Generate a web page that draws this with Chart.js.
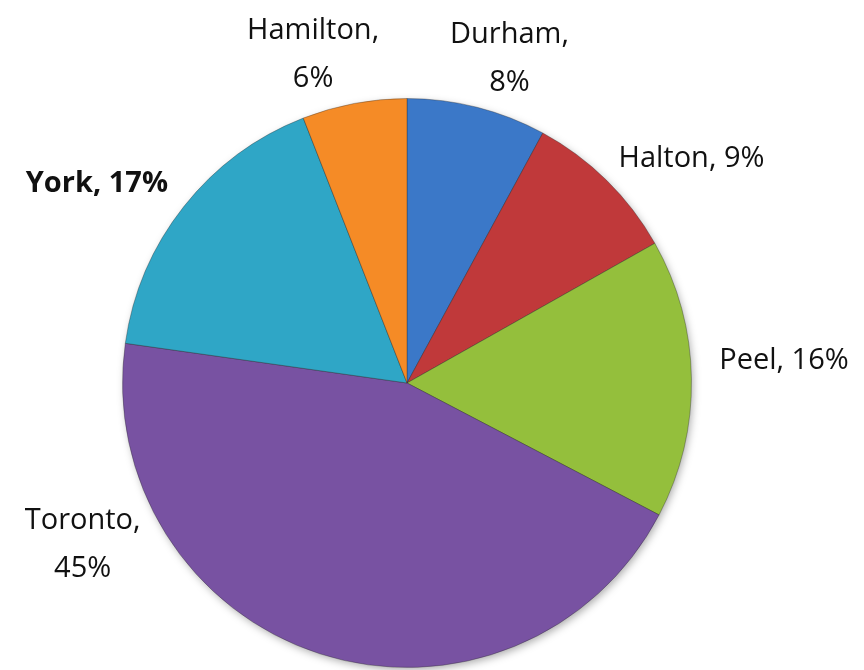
<!DOCTYPE html>
<html>
<head>
<meta charset="utf-8">
<script src="https://cdn.jsdelivr.net/npm/chart.js@4"></script>
<style>
  html, body { margin: 0; padding: 0; background: #fff; }
  #wrap { width: 864px; height: 670px; }
</style>
</head>
<body>
<div id="wrap"><canvas id="pieChart" width="864" height="670"></canvas></div>
<script>
// =====================
// Data
// =====================
const regiones = ["Durham", "Halton", "Peel", "Toronto", "York", "Hamilton"];
const porcentajes = [8, 9, 16, 45, 17, 6];
const colores = ["#3b78c8", "#c0393a", "#94bf3c", "#7852a2", "#2fa6c6", "#f58b26"];

// label lines + offset from pie centre (dx, dy in units of radius)
const etiquetas = [
  { lineas: ["Durham,", "8%"], dx: 0.36, dy: -1.14, bold: false },
  { lineas: ["Halton, 9%"], dx: 1.0, dy: -0.79, bold: false },
  { lineas: ["Peel, 16%"], dx: 1.325, dy: -0.08, bold: false },
  { lineas: ["Toronto,", "45%"], dx: -1.14, dy: 0.57, bold: false },
  { lineas: ["York, 17%"], dx: -1.09, dy: -0.70, bold: true },
  { lineas: ["Hamilton,", "6%"], dx: -0.33, dy: -1.155, bold: false },
];

function aclarar(hex, f) {
  const n = parseInt(hex.slice(1), 16);
  let r = (n >> 16) & 255, g = (n >> 8) & 255, b = n & 255;
  if (f > 0) { r += (255 - r) * f; g += (255 - g) * f; b += (255 - b) * f; }
  else { r *= 1 + f; g *= 1 + f; b *= 1 + f; }
  return `rgb(${Math.round(r)},${Math.round(g)},${Math.round(b)})`;
}

// shaded fill, a little like the Office bevel
function relleno(context) {
  const chart = context.chart;
  const base = colores[context.dataIndex];
  const meta = chart.getDatasetMeta(0);
  const arc = meta.data[context.dataIndex];
  if (!arc || !arc.outerRadius) return base;
  const g = chart.ctx.createRadialGradient(arc.x, arc.y, 0, arc.x, arc.y, arc.outerRadius);
  g.addColorStop(0, aclarar(base, -0.04));
  g.addColorStop(0.85, base);
  g.addColorStop(0.965, aclarar(base, 0.12));
  g.addColorStop(1, aclarar(base, -0.25));
  return g;
}

// =====================
// Labels plugin
// =====================
const pluginEtiquetas = {
  id: "etiquetas",
  afterDatasetsDraw(chart) {
    const arc = chart.getDatasetMeta(0).data[0];
    if (!arc) return;
    const ctx = chart.ctx;
    const r = arc.outerRadius;
    ctx.save();
    ctx.fillStyle = "#111";
    ctx.textAlign = "center";
    ctx.textBaseline = "middle";
    etiquetas.forEach((e) => {
      ctx.font = (e.bold ? "bold " : "") + "29px 'Open Sans', 'DejaVu Sans', sans-serif";
      const x = arc.x + e.dx * r;
      const y = arc.y + e.dy * r;
      const alto = 48;
      const y0 = y - ((e.lineas.length - 1) * alto) / 2;
      e.lineas.forEach((t, i) => ctx.fillText(t, x, y0 + i * alto));
    });
    ctx.restore();
  },
};

const pluginSombra = {
  id: "sombra",
  beforeDatasetsDraw(chart) {
    const arc = chart.getDatasetMeta(0).data[0];
    if (!arc) return;
    const ctx = chart.ctx;
    ctx.save();
    ctx.shadowColor = "rgba(0,0,0,0.35)";
    ctx.shadowBlur = 8;
    ctx.shadowOffsetX = 2;
    ctx.shadowOffsetY = 3;
    ctx.fillStyle = "#888";
    ctx.beginPath();
    ctx.arc(arc.x, arc.y, arc.outerRadius - 1, 0, Math.PI * 2);
    ctx.fill();
    ctx.restore();
  },
};

new Chart(document.getElementById("pieChart"), {
  type: "pie",
  data: {
    labels: regiones,
    datasets: [
      {
        data: porcentajes,
        backgroundColor: relleno,
        borderColor: "rgba(40,40,40,0.35)",
        borderWidth: 1,
      },
    ],
  },
  options: {
    responsive: false,
    animation: false,
    rotation: 0,
    layout: { padding: { left: 100, right: 150, top: 98, bottom: 2 } },
    plugins: {
      legend: { display: false },
      tooltip: { enabled: false },
    },
  },
  plugins: [pluginSombra, pluginEtiquetas],
});
</script>
</body>
</html>
